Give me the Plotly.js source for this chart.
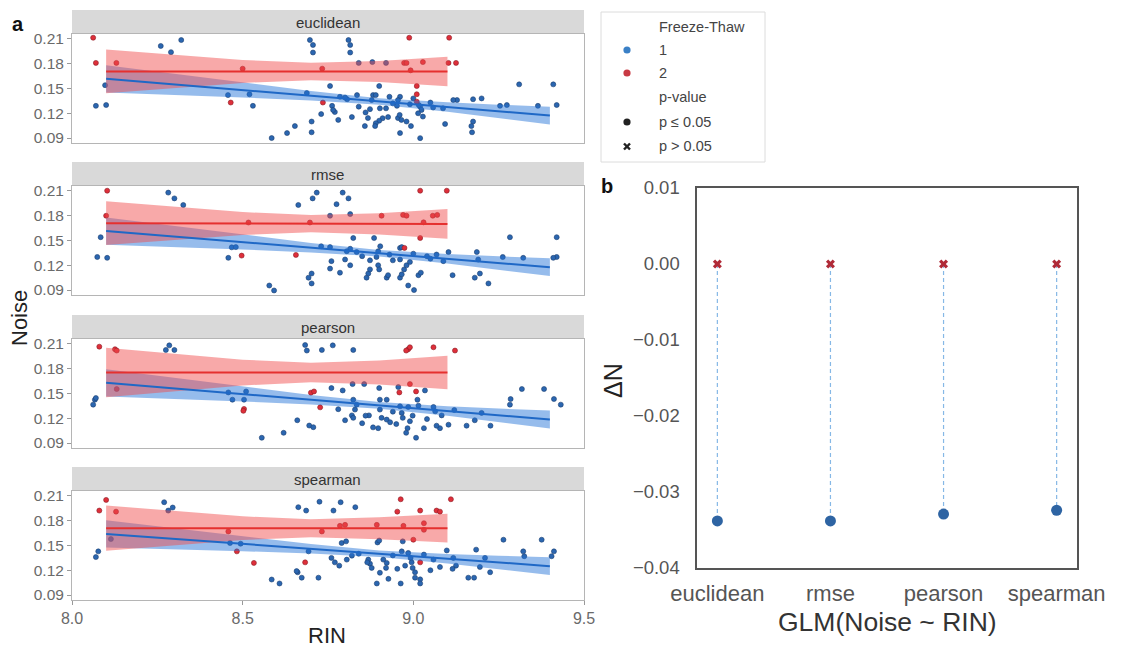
<!DOCTYPE html>
<html><head><meta charset="utf-8">
<script src="https://cdn.plot.ly/plotly-3.0.1.min.js"></script>
<style>html,body{margin:0;padding:0;background:#fff}#chart{width:1131px;height:650px}</style>
</head><body><div id="chart"></div>
<script>
// ---------- data: panel a (Noise vs RIN, by metric & freeze-thaw) ----------
const metrics = ['euclidean', 'rmse', 'pearson', 'spearman'];
const xTickVals = [8.0, 8.5, 9.0, 9.5];
const xTickText = ['8.0', '8.5', '9.0', '9.5'];
const yTickVals = [0.09, 0.12, 0.15, 0.18, 0.21];
const yTickText = ['0.09', '0.12', '0.15', '0.18', '0.21'];

const rin_euc_ft1 = [8.07,8.10,8.097,8.26,8.29,8.32,8.457,8.52,8.53,8.585,8.63,8.653,8.697,8.706,8.706,8.81,8.815,8.815,8.756,8.90,9.31,9.41,9.42,9.365,9.274,9.254,9.175,9.128,9.117,9.087,9.058,9.02,9.024,9.016,8.961,8.955,8.952,8.882,8.89,8.878,8.873,8.902,8.92,8.926,8.91,8.90,8.89,8.888,8.867,8.858,8.82,8.835,8.806,8.80,8.785,8.77,8.762,8.765,8.78,8.688,8.702,8.702,8.955,8.965,8.98,8.993,8.961,9.02,9.014,9.028,9.093,9.175,9.17,9.172,8.84,8.88,8.92,8.94,8.99,9.05,9.20,8.84,8.86,8.73,8.96,9.00,8.93];
const noise_euc_ft1 = [0.129,0.130,0.154,0.2015,0.194,0.2087,0.142,0.143,0.129,0.090,0.096,0.1045,0.2087,0.2027,0.1936,0.2087,0.2027,0.1936,0.153,0.153,0.155,0.155,0.130,0.129,0.130,0.129,0.137,0.136,0.136,0.126,0.127,0.128,0.124,0.130,0.140,0.136,0.129,0.142,0.142,0.136,0.125,0.126,0.126,0.1154,0.114,0.111,0.108,0.1045,0.1142,0.1045,0.1154,0.142,0.137,0.139,0.140,0.1215,0.129,0.124,0.112,0.1445,0.110,0.097,0.1142,0.112,0.110,0.1045,0.096,0.0899,0.120,0.116,0.107,0.110,0.1045,0.097,0.181,0.182,0.181,0.132,0.131,0.133,0.138,0.128,0.121,0.119,0.118,0.138,0.140];
const rin_euc_ft2 = [8.062,8.07,8.13,8.50,8.465,8.988,9.105,9.103,9.125,8.992,9.01,9.01,9.01,8.733,8.735,8.973,8.98,9.028];
const noise_euc_ft2 = [0.2115,0.181,0.181,0.174,0.133,0.2115,0.2115,0.181,0.181,0.172,0.153,0.143,0.134,0.174,0.133,0.181,0.181,0.182];

const rin_rmse_ft1 = [8.074,8.084,8.103,8.282,8.30,8.326,8.458,8.468,8.48,8.578,8.592,8.663,8.705,8.717,8.775,8.793,8.81,8.824,8.885,9.283,9.42,9.42,9.41,9.322,9.262,9.186,9.19,9.103,9.088,9.068,9.04,9.0,8.961,8.966,8.903,8.897,8.892,8.873,8.834,8.815,8.805,8.80,8.815,8.756,8.73,8.756,8.785,8.702,8.693,8.702,8.863,8.868,8.873,8.897,8.90,8.922,8.926,8.961,8.966,8.973,8.98,8.985,9.002,9.015,9.022,9.115,9.18,9.195,9.22,8.94,8.961,8.756,8.815,8.85,8.93,9.05,8.99,8.76];
const noise_rmse_ft1 = [0.130,0.154,0.129,0.208,0.201,0.193,0.129,0.1417,0.142,0.0955,0.0895,0.193,0.201,0.208,0.194,0.208,0.201,0.153,0.153,0.154,0.154,0.130,0.129,0.129,0.130,0.136,0.127,0.136,0.125,0.133,0.131,0.134,0.141,0.142,0.143,0.137,0.130,0.126,0.136,0.140,0.137,0.127,0.120,0.142,0.143,0.116,0.111,0.110,0.105,0.098,0.105,0.110,0.115,0.120,0.115,0.105,0.108,0.105,0.109,0.115,0.120,0.0955,0.090,0.108,0.111,0.108,0.105,0.110,0.098,0.126,0.127,0.180,0.182,0.131,0.133,0.128,0.124,0.125];
const rin_rmse_ft2 = [8.103,8.10,8.517,8.497,8.656,9.02,9.098,8.697,8.907,8.97,8.98,9.03,9.057,9.07,9.02,8.974];
const noise_rmse_ft2 = [0.2103,0.180,0.1718,0.1317,0.1325,0.2103,0.2103,0.1718,0.180,0.181,0.180,0.172,0.180,0.181,0.153,0.141];

const rin_pear_ft1 = [8.062,8.067,8.07,8.275,8.285,8.3,8.458,8.47,8.504,8.51,8.556,8.62,8.66,8.695,8.707,8.683,8.688,8.732,8.764,8.824,8.76,8.793,8.822,8.856,8.90,8.956,9.034,9.318,9.383,9.285,9.283,9.412,9.432,9.20,9.226,9.18,9.156,9.103,9.078,9.068,9.083,9.064,9.059,9.031,9.008,8.983,8.979,8.99,8.998,8.966,8.969,8.961,8.985,9.012,9.015,8.922,8.932,8.907,8.897,8.882,8.902,8.922,8.902,8.87,8.86,8.834,8.824,8.829,8.82,8.824,8.80,8.94,9.04,8.85,8.78,9.12,8.95];
const noise_pear_ft1 = [0.1365,0.1425,0.1445,0.2027,0.2083,0.2027,0.1513,0.1425,0.1425,0.1525,0.0964,0.1024,0.1176,0.1112,0.1092,0.2087,0.202,0.2027,0.2083,0.2027,0.1566,0.1537,0.1614,0.1614,0.1566,0.1578,0.1537,0.1554,0.1554,0.1433,0.1365,0.1433,0.1365,0.1265,0.111,0.1176,0.111,0.1122,0.108,0.111,0.1235,0.1284,0.1337,0.108,0.0964,0.108,0.1024,0.1164,0.1232,0.1265,0.1205,0.1345,0.1337,0.1425,0.1353,0.1184,0.1152,0.1205,0.108,0.109,0.1425,0.1425,0.1305,0.1235,0.1232,0.1365,0.1425,0.1305,0.1235,0.1205,0.1176,0.128,0.119,0.114,0.131,0.130,0.113];
const rin_pear_ft2 = [8.08,8.126,8.131,8.131,8.504,8.502,8.70,8.709,8.727,8.985,8.979,8.99,9.059,9.122,8.99,8.959,9.008];
const noise_pear_ft2 = [0.2067,0.2036,0.202,0.1554,0.1313,0.129,0.151,0.1525,0.1332,0.2036,0.202,0.206,0.206,0.202,0.1614,0.1513,0.1525];

const rin_spear_ft1 = [8.07,8.077,8.114,8.27,8.282,8.295,8.463,8.494,8.585,8.608,8.663,8.661,8.686,8.725,8.766,8.787,8.83,8.79,8.803,8.895,8.90,9.098,9.184,9.264,9.376,9.322,9.325,9.412,9.405,9.21,9.195,9.225,9.117,9.125,9.115,9.078,9.161,9.178,8.693,8.658,8.673,8.722,8.76,8.77,8.783,8.805,8.82,8.868,8.873,8.878,8.865,8.893,8.902,8.912,8.922,8.92,8.927,8.953,8.963,8.976,8.985,8.992,8.995,8.998,9.005,9.005,9.02,9.02,8.966,8.969,9.031,9.059,8.84,8.94,9.05];
const noise_spear_ft1 = [0.136,0.1429,0.1578,0.2024,0.1923,0.196,0.153,0.1522,0.1088,0.104,0.1964,0.1176,0.1923,0.203,0.1923,0.2024,0.1964,0.153,0.155,0.1537,0.156,0.144,0.145,0.157,0.157,0.1429,0.137,0.1429,0.137,0.135,0.124,0.1176,0.135,0.1256,0.1217,0.124,0.111,0.111,0.1429,0.119,0.111,0.111,0.135,0.1296,0.1256,0.1329,0.1377,0.1329,0.128,0.1229,0.1296,0.104,0.117,0.1329,0.1289,0.1229,0.1096,0.1217,0.104,0.1256,0.141,0.135,0.1296,0.1229,0.1176,0.111,0.109,0.104,0.1429,0.155,0.139,0.1329,0.140,0.138,0.12];
const rin_spear_ft2 = [8.10,8.08,8.129,8.458,8.483,8.533,8.963,9.11,8.953,9.02,9.068,9.078,8.732,8.785,8.80,8.893,8.971,9.031,9.031,9.0,9.02,8.683];
const noise_spear_ft2 = [0.2052,0.1923,0.191,0.167,0.1429,0.1289,0.206,0.206,0.191,0.1923,0.1923,0.191,0.167,0.1738,0.175,0.175,0.1738,0.177,0.169,0.157,0.1296,0.1296];

// fitted GLM lines with confidence bands
const fitX_ft1 = [8.1, 8.3, 8.5, 8.7, 8.9, 9.1, 9.25, 9.4];
const fitX_ft2 = [8.1, 8.3, 8.5, 8.7, 8.9, 9.1];

const fit_euc_ft1 = [0.1618,0.1550,0.1481,0.1412,0.1343,0.1275,0.1223,0.1172];
const hi_euc_ft1  = [0.1783,0.1677,0.1570,0.1469,0.1383,0.1332,0.1304,0.1280];
const lo_euc_ft1  = [0.1453,0.1423,0.1392,0.1355,0.1303,0.1218,0.1142,0.1064];
const fit_euc_ft2 = [0.1706,0.1706,0.1706,0.1706,0.1705,0.1705];
const hi_euc_ft2  = [0.1971,0.1907,0.1844,0.1811,0.1834,0.1886];
const lo_euc_ft2  = [0.1441,0.1505,0.1568,0.1601,0.1578,0.1526];

const fit_rmse_ft1 = [0.1615,0.1548,0.1480,0.1413,0.1345,0.1278,0.1228,0.1177];
const hi_rmse_ft1  = [0.1780,0.1675,0.1569,0.1470,0.1385,0.1335,0.1309,0.1285];
const lo_rmse_ft1  = [0.1450,0.1421,0.1391,0.1356,0.1305,0.1221,0.1147,0.1069];
const fit_rmse_ft2 = [0.1710,0.1708,0.1706,0.1704,0.1702,0.1700];
const hi_rmse_ft2  = [0.1975,0.1909,0.1844,0.1809,0.1830,0.1880];
const lo_rmse_ft2  = [0.1445,0.1507,0.1568,0.1599,0.1574,0.1520];

const fit_pear_ft1 = [0.1630,0.1562,0.1493,0.1425,0.1356,0.1288,0.1237,0.1185];
const hi_pear_ft1  = [0.1795,0.1689,0.1582,0.1482,0.1396,0.1345,0.1318,0.1293];
const lo_pear_ft1  = [0.1465,0.1435,0.1404,0.1368,0.1316,0.1231,0.1156,0.1077];
const fit_pear_ft2 = [0.1754,0.1754,0.1754,0.1754,0.1754,0.1754];
const hi_pear_ft2  = [0.2054,0.1981,0.1910,0.1873,0.1899,0.1958];
const lo_pear_ft2  = [0.1454,0.1527,0.1598,0.1635,0.1609,0.1550];

const fit_spear_ft1 = [0.1640,0.1580,0.1520,0.1460,0.1400,0.1340,0.1295,0.1250];
const hi_spear_ft1  = [0.1805,0.1707,0.1609,0.1517,0.1440,0.1397,0.1376,0.1358];
const lo_spear_ft1  = [0.1475,0.1453,0.1431,0.1403,0.1360,0.1283,0.1214,0.1142];
const fit_spear_ft2 = [0.1710,0.1710,0.1710,0.1710,0.1710,0.1710];
const hi_spear_ft2  = [0.1985,0.1918,0.1853,0.1819,0.1843,0.1885];
const lo_spear_ft2  = [0.1435,0.1502,0.1567,0.1601,0.1577,0.1535];

// ---------- data: panel b (delta N from GLM) ----------
const dN_ft1 = [-0.0338, -0.0338, -0.0329, -0.0324];   // p <= 0.05
const dN_ft2 = [0.0, 0.0, 0.0, 0.0];                   // p > 0.05
const bTickVals = [-0.04, -0.03, -0.02, -0.01, 0.00, 0.01];

// ---------- build ----------
const W = 1131, H = 650;
const px = x => x / W, py = y => 1 - y / H;
const FONT = 'Liberation Sans, Arial, Helvetica, sans-serif';
const BLUE_PT = '#2b66b0', RED_PT = '#de2f3a';
const BLUE_LINE = '#1f68c6', RED_LINE = '#e5302f';
const BLUE_BAND = 'rgba(35,115,215,0.48)', RED_BAND = 'rgba(240,75,75,0.48)';

const panels = [
  {b:[rin_euc_ft1, noise_euc_ft1], r:[rin_euc_ft2, noise_euc_ft2], fb:[fit_euc_ft1, lo_euc_ft1, hi_euc_ft1], fr:[fit_euc_ft2, lo_euc_ft2, hi_euc_ft2]},
  {b:[rin_rmse_ft1, noise_rmse_ft1], r:[rin_rmse_ft2, noise_rmse_ft2], fb:[fit_rmse_ft1, lo_rmse_ft1, hi_rmse_ft1], fr:[fit_rmse_ft2, lo_rmse_ft2, hi_rmse_ft2]},
  {b:[rin_pear_ft1, noise_pear_ft1], r:[rin_pear_ft2, noise_pear_ft2], fb:[fit_pear_ft1, lo_pear_ft1, hi_pear_ft1], fr:[fit_pear_ft2, lo_pear_ft2, hi_pear_ft2]},
  {b:[rin_spear_ft1, noise_spear_ft1], r:[rin_spear_ft2, noise_spear_ft2], fb:[fit_spear_ft1, lo_spear_ft1, hi_spear_ft1], fr:[fit_spear_ft2, lo_spear_ft2, hi_spear_ft2]}
];
const tops = [34, 186, 339, 491], bottoms = [143, 295, 448, 600];
const PL = 72, PR = 584;

const traces = [];
const layout = {
  width: W, height: H, margin: {l: 0, r: 0, t: 0, b: 0},
  paper_bgcolor: '#fff', plot_bgcolor: 'rgba(0,0,0,0)', showlegend: false,
  font: {family: FONT, color: '#444'},
  shapes: [], annotations: []
};

function band(xs, lo, hi, color, xa, ya) {
  return {x: xs.concat(xs.slice().reverse()), y: hi.concat(lo.slice().reverse()),
    type: 'scatter', mode: 'lines', fill: 'toself', fillcolor: color, line: {width: 0},
    xaxis: xa, yaxis: ya, hoverinfo: 'skip'};
}
function label(x, y, text, size, color, extra) {
  return Object.assign({xref: 'paper', yref: 'paper', x: px(x), y: py(y), text: text, showarrow: false,
    xanchor: 'center', yanchor: 'middle', font: {size: size, color: color}}, extra || {});
}

panels.forEach((p, k) => {
  const s = k === 0 ? '' : String(k + 1);
  const xa = 'x' + s, ya = 'y' + s;
  traces.push({x: p.b[0], y: p.b[1], type: 'scatter', mode: 'markers', xaxis: xa, yaxis: ya,
    marker: {size: 5, color: BLUE_PT, line: {width: 0.6, color: '#1d3f70'}}});
  traces.push({x: p.r[0], y: p.r[1], type: 'scatter', mode: 'markers', xaxis: xa, yaxis: ya,
    marker: {size: 5, color: RED_PT, line: {width: 0.6, color: '#8a1d25'}}});
  traces.push(band(fitX_ft1, p.fb[1], p.fb[2], BLUE_BAND, xa, ya));
  traces.push(band(fitX_ft2, p.fr[1], p.fr[2], RED_BAND, xa, ya));
  traces.push({x: fitX_ft1, y: p.fb[0], type: 'scatter', mode: 'lines', xaxis: xa, yaxis: ya,
    line: {color: BLUE_LINE, width: 2}});
  traces.push({x: fitX_ft2, y: p.fr[0], type: 'scatter', mode: 'lines', xaxis: xa, yaxis: ya,
    line: {color: RED_LINE, width: 2}});

  layout['xaxis' + s] = {domain: [px(PL), px(PR)], range: [8.0, 9.5], anchor: ya,
    showline: true, mirror: true, linecolor: '#b5b5b5', linewidth: 1, showgrid: false, zeroline: false,
    ticks: k === 3 ? 'outside' : '', ticklen: 4, tickcolor: '#999', showticklabels: k === 3,
    tickvals: xTickVals, ticktext: xTickText, tickfont: {size: 16, color: '#6a6a6a'}};
  layout['yaxis' + s] = {domain: [py(bottoms[k]), py(tops[k])], range: [0.084, 0.216], anchor: xa,
    showline: true, mirror: true, linecolor: '#b5b5b5', linewidth: 1, showgrid: false, zeroline: false,
    ticks: 'outside', ticklen: 4, tickcolor: '#999',
    tickvals: yTickVals, ticktext: yTickText, tickfont: {size: 15.5, color: '#6a6a6a'}};

  layout.shapes.push({type: 'rect', xref: 'paper', yref: 'paper', x0: px(PL), x1: px(PR),
    y0: py(tops[k]), y1: py(tops[k] - 24), fillcolor: '#d9d9d9', line: {width: 0}, layer: 'below'});
  layout.annotations.push(label((PL + PR) / 2, tops[k] - 12, metrics[k], 15, '#333'));
});

// panel b
const segX = [], segY = [];
metrics.forEach((m, i) => { segX.push(m, m, null); segY.push(dN_ft2[i], dN_ft1[i], null); });
traces.push({x: segX, y: segY, type: 'scatter', mode: 'lines', xaxis: 'x5', yaxis: 'y5',
  line: {color: '#86b8e6', width: 1.2, dash: '4px,3px'}, connectgaps: false});
traces.push({x: metrics, y: dN_ft1, type: 'scatter', mode: 'markers', xaxis: 'x5', yaxis: 'y5',
  marker: {size: 11, color: '#2e64a3'}});
traces.push({x: metrics, y: dN_ft2, type: 'scatter', mode: 'markers', xaxis: 'x5', yaxis: 'y5',
  marker: {size: 8, symbol: 'x', color: '#b02a37'}});

layout.xaxis5 = {domain: [px(697), px(1077)], type: 'category', categoryorder: 'array', categoryarray: metrics,
  range: [-0.18, 3.18], anchor: 'y5', showline: true, mirror: true, linecolor: '#555', linewidth: 1.6,
  showgrid: false, zeroline: false, ticks: '', ticklabelstandoff: 5, tickfont: {size: 22, color: '#555'}};
layout.yaxis5 = {domain: [py(568), py(188)], range: [-0.04, 0.01], anchor: 'x5', showline: true, mirror: true,
  linecolor: '#555', linewidth: 1.6, showgrid: false, zeroline: false, ticks: '', ticklabelstandoff: 12,
  tickvals: bTickVals, tickformat: '.2f', tickfont: {size: 18.5, color: '#555'}};

// titles & panel letters
const A = layout.annotations;
A.push(label(18, 24, '<b>a</b>', 20, '#111'));
A.push(label(607, 186, '<b>b</b>', 20, '#111'));
A.push(label(19, 318, 'Noise', 22, '#222', {textangle: -90}));
A.push(label(327, 635, 'RIN', 22, '#222'));
A.push(label(613, 381, 'ΔN', 25, '#222', {textangle: -90}));
A.push(label(887, 622, 'GLM(Noise ~ RIN)', 26.5, '#333'));

// legend (manual)
const S = layout.shapes;
S.push({type:'rect', xref:'paper', yref:'paper', x0:px(601), x1:px(765), y0:py(162), y1:py(12), line:{color:'#dcdcdc', width:1}, fillcolor:'rgba(0,0,0,0)'});
const legText = [['Freeze-Thaw', 27], ['1', 50], ['2', 73], ['p-value', 97], ['p ≤ 0.05', 122], ['p > 0.05', 146]];
legText.forEach(([t, y]) => A.push(label(657, y, t, 14.5, '#444', {xanchor: 'left'})));
const dot = (cx, cy, r, c) => S.push({type:'circle', xref:'paper', yref:'paper', x0:px(cx - r), x1:px(cx + r), y0:py(cy + r), y1:py(cy - r), fillcolor:c, line:{width:0}});
dot(627, 50, 3.6, '#3a80c6');
dot(627, 73, 3.6, '#c83a44');
dot(627, 122, 3.6, '#222');
S.push({type:'line', xref:'paper', yref:'paper', x0:px(624), x1:px(630), y0:py(143.5), y1:py(149.5), line:{color:'#222', width:2.4}});
S.push({type:'line', xref:'paper', yref:'paper', x0:px(624), x1:px(630), y0:py(149.5), y1:py(143.5), line:{color:'#222', width:2.4}});

Plotly.newPlot('chart', traces, layout, {staticPlot: true, displayModeBar: false});
</script>
</body></html>
